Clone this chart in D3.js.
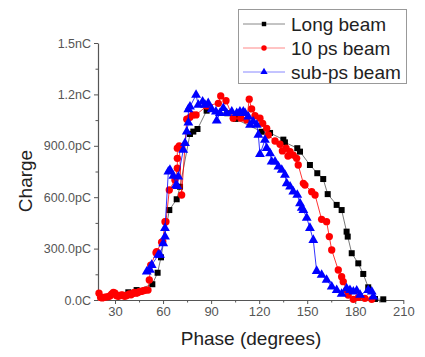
<!DOCTYPE html>
<html><head><meta charset="utf-8">
<script src="https://cdn.jsdelivr.net/npm/d3@7/dist/d3.min.js"></script>
<style>body{margin:0;background:#fff}svg{display:block}text{font-family:"Liberation Sans",Arial,sans-serif}</style>
</head><body><svg id="c" width="425" height="357"></svg>
<script>
// Phase (degrees), Charge (pC)
const longPhase = [38.3,43.5,53.3,56.6,58.7,63.9,68.5,70.6,76.8,78.9,81.5,87.2,100.1,105.3,121.6,126.8,135.1,136.1,143.8,145.5,151.7,156.3,160.0,162.8,168.4,171.5,174.6,175.3,177.8,181.9,185.0,188.1,192.3,197.5];
const longCharge = [45,58,92,159,249,525,588,661,969,983,998,1105,1090,1057,982,975,936,920,886,866,788,740,706,618,555,525,399,370,273,214,152,74,6,4];

const psPhase = [20,21,22,23,24.5,26,27,28,29,30,31,32,33,34,35,36,37,38,39,40,41,42,43,44,45,46,47,48,49,50.6,51.4,52.3,55.6,56.0,59.1,59.8,61.2,61.8,63.9,67.4,68.9,68.9,68.9,70.1,71.6,74.8,76.8,78.5,80.6,87.2,94.5,96.0,99.3,103.8,108.5,112.2,113.8,115.3,117.4,120.5,122.2,124.7,125.7,129.9,133.0,134.5,136.8,138.0,139.3,141.3,143.4,144.4,147.6,148.6,152.8,154.9,159.0,162.1,163.8,165.3,169.4,171.5,172.5,174.6,175.6,178.8,182.0,186.0,190.3];
const psCharge = [40,15,12,15,18,20,25,35,45,40,25,22,25,30,28,22,25,30,35,30,38,45,40,42,48,50,52,55,58,58,117,204,276,282,337,340,457,457,642,700,769,827,886,899,613,1055,1066,1080,1080,1133,1148,1191,1163,1061,1061,1051,1172,1115,1076,1061,1031,1002,963,928,909,870,886,840,866,846,827,788,681,671,632,613,471,457,370,292,175,136,107,58,29,4,15,10,4];

const subPhase = [49.8,51.8,52.9,57.0,58.1,60.1,61.2,61.2,63.3,64.3,66.4,68.1,68.9,69.5,72.6,73.7,74.8,75.8,75.8,76.8,80.6,82.0,84.7,86.2,88.2,90.4,93.0,93.5,95.5,97.6,99.7,102.9,106.0,108.0,110.1,111.2,113.2,114.3,116.3,118.5,119.5,120.5,123.6,124.7,126.8,127.8,129.9,132.0,134.1,136.1,137.2,139.3,141.3,143.8,145.5,146.6,147.6,149.7,151.7,153.8,155.9,159.0,162.1,165.3,168.4,171.5,174.6,176.7,178.8,180.9,183.0,188.1,190.3,191.3];
const subCharge = [165,175,204,263,263,331,370,419,749,759,724,671,665,720,876,915,983,1035,1113,1128,1197,1138,1158,1138,1148,1113,1099,1047,1090,1119,1090,1099,1090,1099,1099,1090,1070,1022,1041,1022,963,851,934,886,856,807,807,778,759,730,681,661,632,613,564,537,525,479,420,350,169,146,117,78,58,35,68,58,48,54,29,58,48,19];

const xTicks = [30,60,90,120,150,180,210];
const yTicks = [0,300,600,900,1200,1500];
const yTickLabels = ["0.0C","300.0pC","600.0pC","900.0pC","1.2nC","1.5nC"];
const seriesNames = ["Long beam","10 ps beam","sub-ps beam"];

const svg = d3.select("#c");
const x = d3.scaleLinear().domain([20,210]).range([99,403.3]);
const y = d3.scaleLinear().domain([0,1500]).range([300,43]);
const axisColor = "#555", labColor = "#555";

// axes
const xAx = svg.append("g").attr("transform","translate(0,300)")
  .call(d3.axisBottom(x).tickValues(xTicks).tickSize(4).tickSizeOuter(0).tickPadding(3));
const xMin = svg.append("g").attr("transform","translate(0,300)")
  .call(d3.axisBottom(x).tickValues(d3.range(45,210,30)).tickSize(2.5).tickFormat("").tickSizeOuter(0));
xMin.select(".domain").remove();
const yAx = svg.append("g").attr("transform","translate(98,0)")
  .call(d3.axisLeft(y).tickValues(yTicks).tickSize(4).tickSizeOuter(0).tickPadding(3)
    .tickFormat((d,i)=>yTickLabels[i]));
const yMin = svg.append("g").attr("transform","translate(98,0)")
  .call(d3.axisLeft(y).tickValues(d3.range(150,1500,300)).tickSize(2.5).tickFormat("").tickSizeOuter(0));
yMin.select(".domain").remove();
svg.selectAll(".domain").attr("stroke",axisColor).attr("stroke-width",1.2);
svg.selectAll(".tick line").attr("stroke",axisColor).attr("stroke-width",1);
svg.selectAll(".tick text").attr("fill",labColor).style("font-size","13px");
yAx.selectAll(".tick text").style("font-size","12.5px");

// titles
svg.append("text").attr("x",251).attr("y",345).attr("text-anchor","middle")
  .attr("fill","#222").style("font-size","19px").text("Phase (degrees)");
svg.append("text").attr("transform","translate(32,181) rotate(-90)").attr("text-anchor","middle")
  .attr("fill","#222").style("font-size","19px").text("Charge");

const series = [
  {px:longPhase, py:longCharge, color:"#000", line:"#555", sym:d3.symbolSquare, size:36, lg:"#888"},
  {px:psPhase, py:psCharge, color:"#f00", line:"#f00", sym:d3.symbolCircle, size:42, lg:"#f88"},
  {px:subPhase, py:subCharge, color:"#00f", line:"#00f", sym:d3.symbolTriangle, size:42, lg:"#88f"}
];
const line = d3.line().x(d=>x(d[0])).y(d=>y(d[1]));
series.forEach(s=>{
  const pts = s.px.map((p,i)=>[p,s.py[i]]);
  const g = svg.append("g");
  g.append("path").datum(pts).attr("d",line).attr("fill","none").attr("stroke",s.line).attr("stroke-width",0.8);
  g.selectAll("path.m").data(pts).enter().append("path").attr("class","m")
    .attr("transform",d=>`translate(${x(d[0])},${y(d[1])})`)
    .attr("d",d3.symbol().type(s.sym).size(s.size)).attr("fill",s.color);
});

// legend
const lg = svg.append("g");
lg.append("rect").attr("x",238.5).attr("y",9.5).attr("width",168).attr("height",74)
  .attr("fill","#fff").attr("stroke","#999").attr("stroke-width",1);
series.forEach((s,i)=>{
  const yy = 24 + i*24;
  lg.append("line").attr("x1",243).attr("x2",285).attr("y1",yy).attr("y2",yy).attr("stroke",s.lg).attr("stroke-width",1);
  lg.append("path").attr("transform",`translate(264,${yy})`).attr("d",d3.symbol().type(s.sym).size(s.size*0.55)).attr("fill",s.color);
  lg.append("text").attr("x",291).attr("y",yy+6.5).attr("fill","#222").style("font-size","19px").text(seriesNames[i]);
});
</script></body></html>
